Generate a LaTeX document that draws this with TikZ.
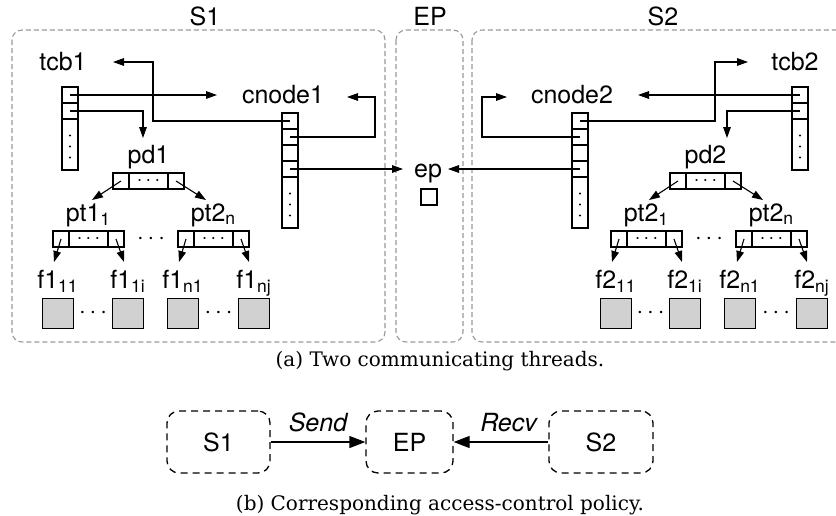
\documentclass[tikz,border=0pt]{standalone}
\usepackage{fontspec}
\setsansfont{TeX Gyre Heros}
\newfontfamily\capfont{DejaVu Serif}
\usetikzlibrary{arrows.meta,calc}

\begin{document}
\begin{tikzpicture}[x=0.5pt,y=-0.5pt,line width=0.55pt,>={Triangle[length=5.5pt,width=3.8pt]},
    font=\sffamily\fontsize{12.5}{14}\selectfont]
  \tikzstyle{cell}=[draw,inner sep=0pt,outer sep=0pt,minimum width=8pt,minimum height=8pt]
  \tikzstyle{midcell}=[cell,minimum width=19.5pt,font=\fontsize{10}{10}\selectfont]
  \tikzstyle{restcell}=[cell,minimum height=25.5pt]
  \tikzstyle{frame}=[draw=black!40,dash pattern=on 2.5pt off 1.5pt,rounded corners=5pt]
  \tikzstyle{page}=[draw,fill=black!18,inner sep=0pt,minimum width=15.5pt,minimum height=15pt]
  \tikzstyle{label}=[inner sep=0pt,anchor=base]
  \tikzstyle{policy}=[draw,dash pattern=on 3.5pt off 2.5pt,line width=0.65pt,rounded corners=6pt,minimum height=31pt]
  \tikzstyle{capt}=[label,font=\capfont\fontsize{10}{12}\selectfont]
  \tikzstyle{verb}=[label,above=4.5pt,font=\sffamily\itshape\fontsize{12.5}{14}\selectfont]
  \tikzstyle{edge}=[draw,->]
  \tikzstyle{grant}=[draw,->,line width=0.65pt,>={Triangle[length=8pt,width=6pt]}]
  \useasboundingbox (0,0) rectangle (836,515);

  % frames of the two threads and the endpoint
  \draw[frame] (12,30) rectangle (385,342);
  \draw[frame] (396,30) rectangle (463,342);
  \draw[frame] (472,30) rectangle (850,342);
  \node[label] (s1t) at (205,25) {S1};
  \node[label] (ept) at (430,25) {EP};
  \node[label] (s2t) at (663,25) {S2};

  % tcb and cnode columns
  \foreach \n/\x/\y in {t1/62/87, c1/282/113, t2/792/87, c2/572/113} {
    \node[cell,anchor=north west] (\n a) at (\x,\y) {};
    \node[cell,anchor=north] (\n b) at (\n a.south) {};
  }
  \node[restcell,anchor=north] (t1r) at (t1b.south) {};
  \node[restcell,anchor=north] (t2r) at (t2b.south) {};
  \foreach \n in {c1,c2} {
    \node[cell,anchor=north] (\n c) at (\n b.south) {};
    \node[cell,anchor=north] (\n d) at (\n c.south) {};
    \node[restcell,anchor=north] (\n r) at (\n d.south) {};
  }
  \foreach \n in {t1r,t2r,c1r,c2r}
    \foreach \d in {-9,2,13}
      \fill ($(\n.center)+(0,\d)$) circle (0.55pt);

  \node[label] (tcb1) at (63,70) {tcb1};
  \node[label] (cnode1) at (283,103) {cnode1};
  \node[label] (tcb2) at (795,70) {tcb2};
  \node[label] (cnode2) at (572,103) {cnode2};
  \node[label] (ep) at (428,177) {ep};
  \node[cell,anchor=north west] (epbox) at (421,189) {};

  % page directories and page tables
  \foreach \n/\x/\y/\t in {pd1/113/173/pd1, pa1/53/231/pt1\textsubscript{1}, pb1/178/231/pt2\textsubscript{n},
                           pd2/670/173/pd2, pa2/611/231/pt2\textsubscript{1}, pb2/736/231/pt2\textsubscript{n}} {
    \node[cell,anchor=north west] (\n-l) at (\x,\y) {};
    \node[midcell,anchor=west] (\n-m) at (\n-l.east) {$\cdots$};
    \node[cell,anchor=west] (\n-r) at (\n-m.east) {};
    \node[label] (\n-t) at ($(\n-m.north)+(0,-10)$) {\t};
  }
  \foreach \n in {pd1,pd2} {
    \coordinate (\n-lo) at ($(\n-l.center)+(-29,19)$);
    \coordinate (\n-ro) at ($(\n-r.center)+(30,19)$);
  }
  \foreach \n in {pa1,pb1,pa2,pb2} {
    \coordinate (\n-lo) at ($(\n-l.center)+(-7,23)$);
    \coordinate (\n-ro) at ($(\n-r.center)+(8,23)$);
  }
  \foreach \n in {pd1,pd2,pa1,pb1,pa2,pb2} {
    \path[edge] (\n-l.center) -- (\n-lo);
    \path[edge] (\n-r.center) -- (\n-ro);
  }
  \node (pdots1) at ($(pa1-r.east)!0.5!(pb1-l.west)$) {$\cdots$};
  \node (pdots2) at ($(pa2-r.east)!0.5!(pb2-l.west)$) {$\cdots$};

  % frames
  \foreach \n/\x/\s/\t in {f1a/42/1/11, f1b/112/1/1i, f1c/167/1/n1, f1d/238/1/nj,
                           f2a/600/2/11, f2b/669/2/1i, f2c/724/2/n1, f2d/796/2/nj} {
    \node[page,anchor=north west] (\n) at (\x,298) {};
    \node[label] (\n-t) at ($(\n.north)+(0,-10)$) {f\s\textsubscript{\t}};
  }
  \node (fdots1) at ($(f1a.east)!0.5!(f1b.west)$) {$\cdots$};
  \node (fdots2) at ($(f1c.east)!0.5!(f1d.west)$) {$\cdots$};
  \node (fdots3) at ($(f2a.east)!0.5!(f2b.west)$) {$\cdots$};
  \node (fdots4) at ($(f2c.east)!0.5!(f2d.west)$) {$\cdots$};

  % pointers of thread 1
  \coordinate (k1) at (217,95);
  \coordinate (k2) at (143,138);
  \coordinate (k3a) at (153,62);
  \coordinate (k3) at (113,62);
  \coordinate (k4a) at (375,97);
  \coordinate (k4) at (347,97);
  \coordinate (e1) at (403,169);
  \path[edge] (t1a.center) -- (k1);
  \path[edge] (t1b.center) -| (k2);
  \path[edge] (c1a.center) -| (k3a) -- (k3);
  \path[edge] (c1b.center) -| (k4a) -- (k4);
  \path[edge] (c1d.center) -- (e1);

  % pointers of thread 2
  \coordinate (m1) at (638,95);
  \coordinate (m2) at (727,138);
  \coordinate (m3a) at (715,62);
  \coordinate (m3) at (748,62);
  \coordinate (m4a) at (482,97);
  \coordinate (m4) at (507,97);
  \coordinate (e2) at (448,169);
  \path[edge] (t2a.center) -- (m1);
  \path[edge] (t2b.center) -| (m2);
  \path[edge] (c2a.center) -| (m3a) -- (m3);
  \path[edge] (c2b.center) -| (m4a) -- (m4);
  \path[edge] (c2d.center) -- (e2);

  \node[capt] (capa) at (440,366) {(a) Two communicating threads.};

  % policy
  \node[policy,minimum width=51.5pt] (p1) at (218.5,442) {S1};
  \node[policy,minimum width=43.5pt] (pe) at (409.5,442) {EP};
  \node[policy,minimum width=52pt] (p2) at (601,442) {S2};
  \path[grant] (p1) -- node[verb] (send) {Send} (pe);
  \path[grant] (p2) -- node[verb,pos=0.42] (recv) {Recv} (pe);

  \node[capt] (capb) at (440,510) {(b) Corresponding access-control policy.};
\end{tikzpicture}
\end{document}
